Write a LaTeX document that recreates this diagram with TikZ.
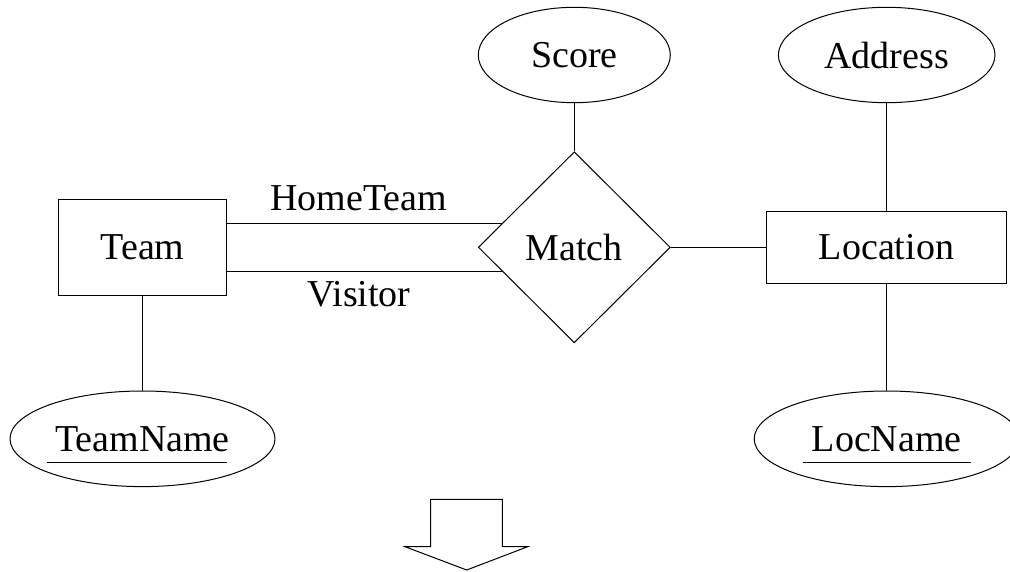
\documentclass[tikz,border=0pt]{standalone}
\usepackage{fontspec}
\setmainfont{Liberation Serif}
\usetikzlibrary{shapes.geometric,calc}

\tikzset{
  base/.style={draw=black, line width=1pt, inner sep=0pt, font=\fontsize{38}{40}\selectfont},
  entity/.style={base, rectangle},
  attr/.style={base, ellipse},
  rel/.style={base, diamond},
  link/.style={draw=black, line width=1pt},
  rolelabel/.style={inner sep=0pt, anchor=base, font=\fontsize{38}{40}\selectfont}
}

\begin{document}
\begin{tikzpicture}[x=1pt, y=-1pt]
  \useasboundingbox (0,0) rectangle (1010,571);

  % entities
  \node[entity, minimum width=168.4pt, minimum height=95.7pt] (team) at (142.5,247.2) {Team};
  \node[entity, minimum width=240pt, minimum height=72.3pt] (loc) at (886.5,247.2) {Location};

  % relationship
  \node[rel, minimum width=192pt, minimum height=191pt] (match) at (574.3,247.3) {Match};

  % attributes
  \node[attr, minimum width=192pt, minimum height=95.4pt] (score) at (574.3,55) {Score};
  \node[attr, minimum width=216.6pt, minimum height=95.4pt] (addr) at (886.7,55) {Address};
  \node[attr, minimum width=265pt, minimum height=95.6pt] (tname) at (142.5,438.8) {TeamName};
  \node[attr, minimum width=265pt, minimum height=95.6pt] (lname) at (886.7,438.8) {LocName};

  % key underlines
  \draw[line width=1pt] ($(tname.center)+(-95.8,23.9)$) -- ($(tname.center)+(84.2,23.9)$);
  \draw[line width=1pt] ($(lname.center)+(-84,23.9)$) -- ($(lname.center)+(84,23.9)$);

  % role connectors between Team and Match
  \coordinate (hm) at ($(match.west)!0.25!(match.north)$);
  \coordinate (vm) at ($(match.west)!0.25!(match.south)$);
  \draw[link] (team.east |- hm) -- (hm);
  \draw[link] (team.east |- vm) -- (vm);
  \node[rolelabel] (hlab) at (358.5,210.7) {HomeTeam};
  \node[rolelabel] (vlab) at (359,306.7) {Visitor};

  % other connectors
  \draw[link] (match.east) -- (loc.west |- match.east);
  \draw[link] (score.south) -- (match.north);
  \draw[link] (addr.south) -- (loc.north -| addr.south);
  \draw[link] (team.south) -- (tname.north);
  \draw[link] (loc.south -| lname.north) -- (lname.north);

  % block arrow pointing down
  \draw[line width=1pt, line join=miter]
    (430.7,499.3) -- (502.3,499.3) -- (502.3,546.7) -- (527.7,546.7)
    -- (466.7,570) -- (405,546.7) -- (430.7,546.7) -- cycle;
\end{tikzpicture}
\end{document}
